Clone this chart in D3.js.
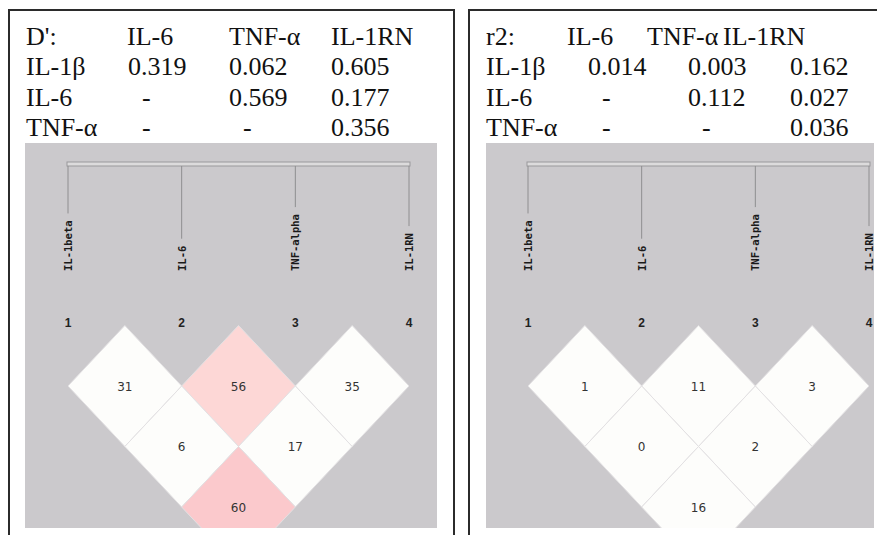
<!DOCTYPE html>
<html>
<head>
<meta charset="utf-8">
<script src="https://cdn.jsdelivr.net/npm/d3@7"></script>
<style>
  body { margin: 0; background: #fff; }
  svg { display: block; }
</style>
</head>
<body>
<svg width="877" height="535"></svg>
<script>
const markers = ['IL-1beta', 'IL-6', 'TNF-alpha', 'IL-1RN']
const tableCols = ['IL-6', 'TNF-α', 'IL-1RN']
const tableRows = ['IL-1β', 'IL-6', 'TNF-α']
const dPrimeTable = [
  ['0.319', '0.062', '0.605'],
  ['-', '0.569', '0.177'],
  ['-', '-', '0.356']
]
const r2Table = [
  ['0.014', '0.003', '0.162'],
  ['-', '0.112', '0.027'],
  ['-', '-', '0.036']
]
// marker pairs (index a, index b) and the value in each LD cell
const pairs = [[0, 1], [1, 2], [2, 3], [0, 2], [1, 3], [0, 3]]
const dPrimeValues = [31, 56, 35, 6, 17, 60]
const r2Values = [1, 11, 3, 0, 2, 16]

const svg = d3.select('svg')

const panels = [
  {
    title: "D':", table: dPrimeTable, values: dPrimeValues,
    frame: [9, 454], gray: [25, 437],
    headX: [26, 127, 229, 331], valX: [26, 128, 229, 331],
    markerRange: [68, 409],
    color: d3.scaleLinear().domain([50, 55, 60]).range(['#fdfdfb', '#fddbd9', '#fbc9cc']).clamp(true)
  },
  {
    title: 'r2:', table: r2Table, values: r2Values,
    frame: [469, 900], gray: [486, 874],
    headX: [486, 567, 647, 723], valX: [486, 588, 688, 790],
    markerRange: [528, 869],
    color: () => '#fdfdfb'
  }
]

const rowY = [45, 75, 105.5, 136]
const grayTop = 143
const grayBottom = 528

panels.forEach((p, pi) => {
  const g = svg.append('g')

  // frame, open at the bottom
  g.append('path')
    .attr('d', `M${p.frame[0]},540V10H${p.frame[1]}V540`)
    .attr('fill', 'none')
    .attr('stroke', '#2b2b2b')
    .attr('stroke-width', 2)

  // table
  const txt = g.append('g')
    .style('font-family', '"Liberation Serif", "Times New Roman", serif')
    .style('font-size', '26px')
    .attr('fill', '#111')

  txt.append('text').attr('x', p.headX[0]).attr('y', rowY[0]).text(p.title)
  tableCols.forEach((c, i) => {
    txt.append('text').attr('x', p.headX[i + 1]).attr('y', rowY[0]).text(c)
  })
  tableRows.forEach((r, ri) => {
    txt.append('text').attr('x', p.valX[0]).attr('y', rowY[ri + 1]).text(r)
    p.table[ri].forEach((v, ci) => {
      txt.append('text')
        .attr('x', p.valX[ci + 1] + (v === '-' ? 14 : 0))
        .attr('y', rowY[ri + 1])
        .text(v)
    })
  })

  // LD plot area
  g.append('rect')
    .attr('x', p.gray[0]).attr('y', grayTop)
    .attr('width', p.gray[1] - p.gray[0]).attr('height', grayBottom - grayTop)
    .attr('fill', '#cbc9cc')

  const clipId = 'clip' + pi
  svg.append('clipPath').attr('id', clipId)
    .append('rect')
    .attr('x', p.gray[0]).attr('y', grayTop)
    .attr('width', p.gray[1] - p.gray[0]).attr('height', grayBottom - grayTop)

  const x = d3.scalePoint().domain(d3.range(markers.length)).range(p.markerRange)
  const hw = x.step() / 2
  const y = d3.scaleLinear().domain([1, 3]).range([386, 507])
  const hh = (y(2) - y(1))

  // marker bar
  g.append('rect')
    .attr('x', x(0) - 1).attr('y', 162)
    .attr('width', x(markers.length - 1) - x(0) + 2).attr('height', 4)
    .attr('fill', '#dcdbdc')
    .attr('stroke', '#9a999b')
    .attr('stroke-width', 1)

  const labels = g.selectAll('.mlabel')
    .data(markers)
    .join('text')
    .attr('class', 'mlabel')
    .attr('transform', (d, i) => `translate(${x(i) + 4},271) rotate(-90)`)
    .style('font-family', '"DejaVu Sans Mono", "Liberation Mono", monospace')
    .style('font-weight', 'bold')
    .style('font-size', '10.5px')
    .attr('fill', '#1a1a1a')
    .text(d => d)

  labels.each(function (d, i) {
    const len = this.getComputedTextLength()
    g.append('line')
      .attr('x1', x(i)).attr('x2', x(i))
      .attr('y1', 166).attr('y2', 271 - len - 7)
      .attr('stroke', '#8f8e90')
      .attr('stroke-width', 1)
  })

  g.selectAll('.mnum')
    .data(markers)
    .join('text')
    .attr('class', 'mnum')
    .attr('x', (d, i) => x(i))
    .attr('y', 327)
    .attr('text-anchor', 'middle')
    .style('font-family', '"Liberation Sans", Arial, sans-serif')
    .style('font-weight', 'bold')
    .style('font-size', '12px')
    .attr('fill', '#222')
    .text((d, i) => i + 1)

  // diamonds
  const cells = g.append('g').attr('clip-path', `url(#${clipId})`)
  const cellData = pairs.map((pr, i) => ({
    cx: (x(pr[0]) + x(pr[1])) / 2,
    cy: y(pr[1] - pr[0]),
    v: p.values[i]
  }))

  cells.selectAll('path')
    .data(cellData)
    .join('path')
    .attr('d', d => `M${d.cx},${d.cy - hh}L${d.cx + hw},${d.cy}L${d.cx},${d.cy + hh}L${d.cx - hw},${d.cy}Z`)
    .attr('fill', d => p.color(d.v))
    .attr('stroke', '#e3e1e3')
    .attr('stroke-width', 1)

  cells.selectAll('text')
    .data(cellData)
    .join('text')
    .attr('x', d => d.cx)
    .attr('y', d => d.cy + 4.5)
    .attr('text-anchor', 'middle')
    .style('font-family', '"DejaVu Sans", Verdana, sans-serif')
    .style('font-size', '12px')
    .attr('fill', '#333')
    .text(d => d.v)
})
</script>
</body>
</html>
